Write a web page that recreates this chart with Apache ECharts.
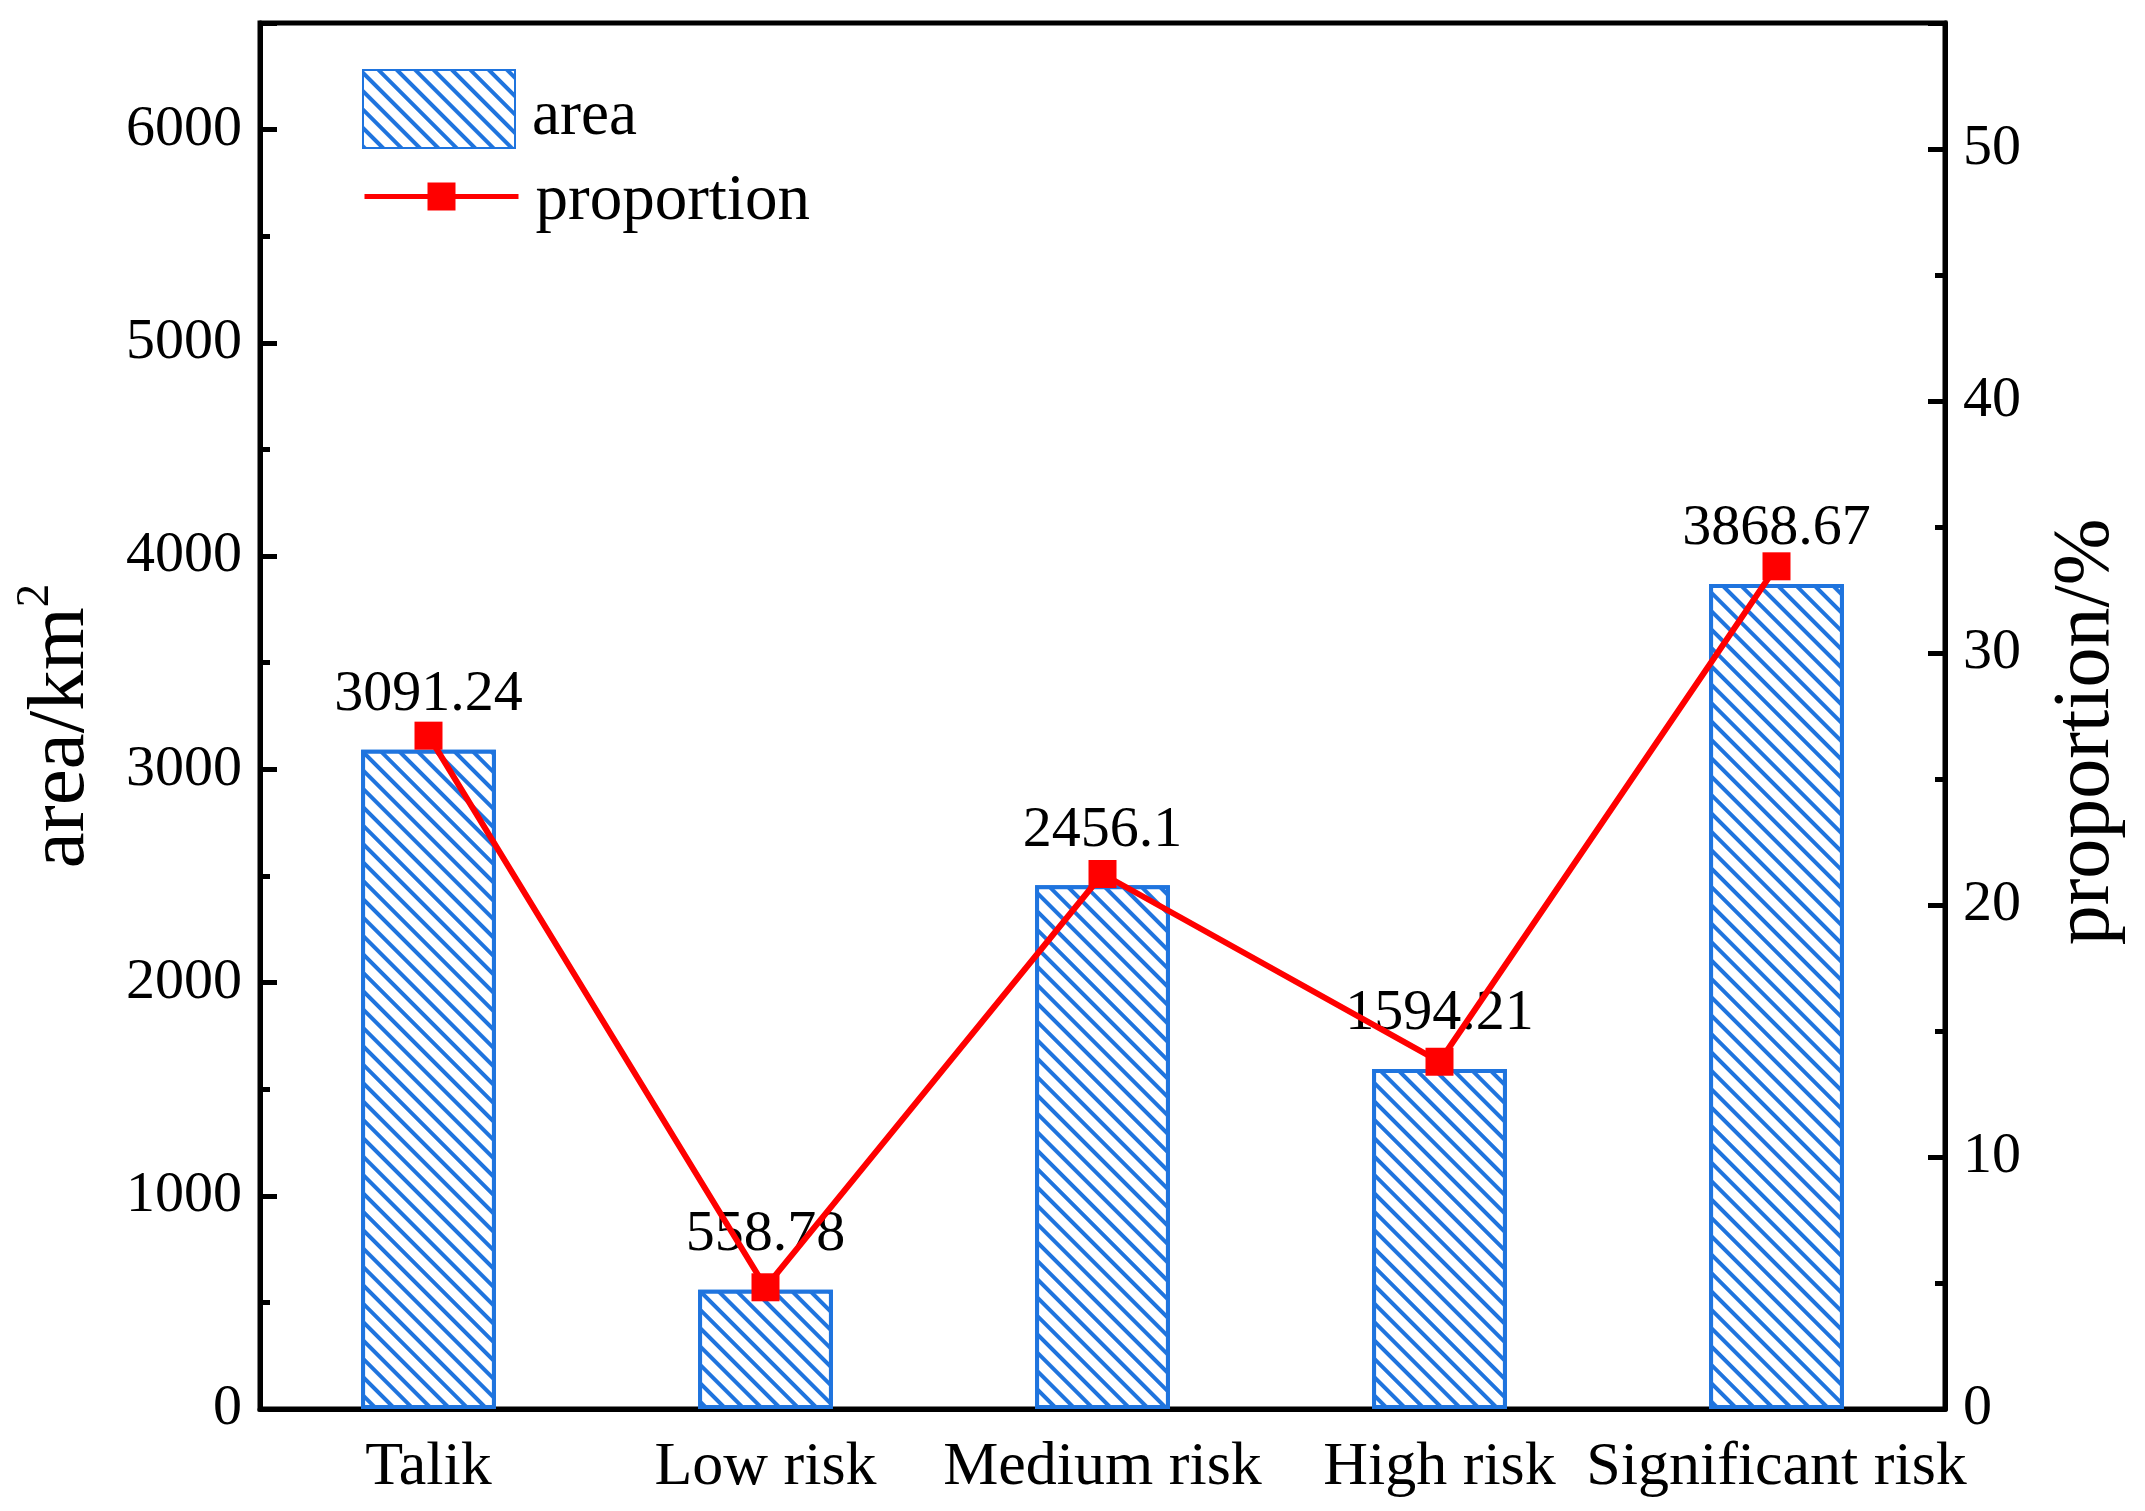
<!DOCTYPE html>
<html>
<head>
<meta charset="utf-8">
<script src="https://cdn.jsdelivr.net/npm/echarts@6/dist/echarts.min.js"></script>
<style>
  html, body { margin: 0; padding: 0; background: #fff; }
  #chart { width: 2145px; height: 1511px; }
</style>
</head>
<body>
<div id="chart"></div>
<script>
// ---- data ----
const categories = ['Talik', 'Low risk', 'Medium risk', 'High risk', 'Significant risk'];
const areaValues = [3091.24, 558.78, 2456.1, 1594.21, 3868.67];
const proportionValues = [26.72, 4.83, 21.23, 13.78, 33.44];
const areaAxis = { min: 0, max: 6500, interval: 1000 };
const proportionAxis = { min: 0, max: 55, interval: 10 };

const FONT = 'Liberation Serif';
const BLUE = '#1F74DE';
const RED = '#FF0000';

const chart = echarts.init(document.getElementById('chart'), null, { renderer: 'canvas' });

const axisLineStyle = { color: '#000', width: 5 };

const option = {
  backgroundColor: '#fff',
  animation: false,
  grid: {
    left: 260, right: 200, top: 23, bottom: 102,
    show: true, borderColor: '#000', borderWidth: 5,
    containLabel: false, outerBoundsMode: 'none'
  },
  legend: [
    {
      data: ['area'],
      left: 357, top: 64,
      itemWidth: 152, itemHeight: 78,
      icon: 'rect',
      formatter: name => '{t|' + name + '}',
      textStyle: {
        fontFamily: FONT, fontSize: 63, color: '#000',
        rich: { t: { fontFamily: FONT, fontSize: 63, color: '#000', padding: [16, 0, 0, 12] } }
      },
      selectedMode: false
    },
    {
      data: ['proportion'],
      left: 357, top: 164,
      itemWidth: 154, itemHeight: 35,
      lineStyle: { width: 5, color: RED },
      formatter: name => '{t|' + name + '}',
      textStyle: {
        fontFamily: FONT, fontSize: 65, color: '#000',
        rich: { t: { fontFamily: FONT, fontSize: 65, color: '#000', padding: [10, 0, 0, 12] } }
      },
      selectedMode: false
    }
  ],
  xAxis: {
    type: 'category',
    data: categories,
    axisLine: { lineStyle: axisLineStyle },
    axisTick: { show: false },
    axisLabel: { fontFamily: FONT, fontSize: 62, color: '#000', margin: 28, interval: 0 },
    splitLine: { show: false }
  },
  yAxis: [
    {
      type: 'value',
      min: areaAxis.min, max: areaAxis.max, interval: areaAxis.interval,
      position: 'left',
      name: '{a|area/km}{sup|2}',
      nameLocation: 'middle',
      nameGap: 158,
      nameTextStyle: {
        fontFamily: FONT, color: '#000',
        padding: [0, 20, 0, 0],
        rich: {
          a: { fontFamily: FONT, fontSize: 81, color: '#000', lineHeight: 90, verticalAlign: 'bottom' },
          sup: { fontFamily: FONT, fontSize: 47, color: '#000', lineHeight: 47, verticalAlign: 'top' }
        }
      },
      axisLine: { show: true, lineStyle: axisLineStyle },
      axisTick: { show: true, inside: true, length: 17, lineStyle: { color: '#000', width: 5 } },
      minorTick: { show: true, splitNumber: 2, length: 10, lineStyle: { color: '#000', width: 5 } },
      axisLabel: {
        fontFamily: FONT, fontSize: 58, color: '#000', margin: 18,
        formatter: v => (v % areaAxis.interval === 0 ? String(v) : '')
      },
      splitLine: { show: false }
    },
    {
      type: 'value',
      min: proportionAxis.min, max: proportionAxis.max, interval: proportionAxis.interval,
      position: 'right',
      name: 'proportion/%',
      nameLocation: 'middle',
      nameGap: 102,
      nameRotate: 90,
      nameTextStyle: { fontFamily: FONT, fontSize: 80, color: '#000', padding: [0, 32, 0, 0] },
      axisLine: { show: true, lineStyle: axisLineStyle },
      axisTick: { show: true, inside: true, length: 17, lineStyle: { color: '#000', width: 5 } },
      minorTick: { show: true, splitNumber: 2, length: 10, lineStyle: { color: '#000', width: 5 } },
      axisLabel: {
        fontFamily: FONT, fontSize: 58, color: '#000', margin: 18,
        formatter: v => (v % proportionAxis.interval === 0 ? String(v) : '')
      },
      splitLine: { show: false }
    }
  ],
  series: [
    {
      name: 'area',
      type: 'bar',
      yAxisIndex: 0,
      data: areaValues,
      barWidth: '40%',
      z: 2,
      itemStyle: {
        color: '#fff',
        borderColor: BLUE,
        borderWidth: 4,
        decal: {
          symbol: 'rect',
          symbolSize: 1,
          color: BLUE,
          backgroundColor: '#fff',
          dashArrayX: [1, 0],
          dashArrayY: [4, 9],
          rotation: Math.PI / 4
        }
      },
      label: {
        show: true, position: 'top', distance: 26,
        fontFamily: FONT, fontSize: 58, color: '#000'
      }
    },
    {
      name: 'proportion',
      type: 'line',
      yAxisIndex: 1,
      data: proportionValues,
      z: 5,
      symbol: 'rect',
      symbolSize: 28,
      lineStyle: { color: RED, width: 6 },
      itemStyle: { color: RED },
      label: { show: false }
    }
  ]
};

chart.setOption(option);
</script>
</body>
</html>
